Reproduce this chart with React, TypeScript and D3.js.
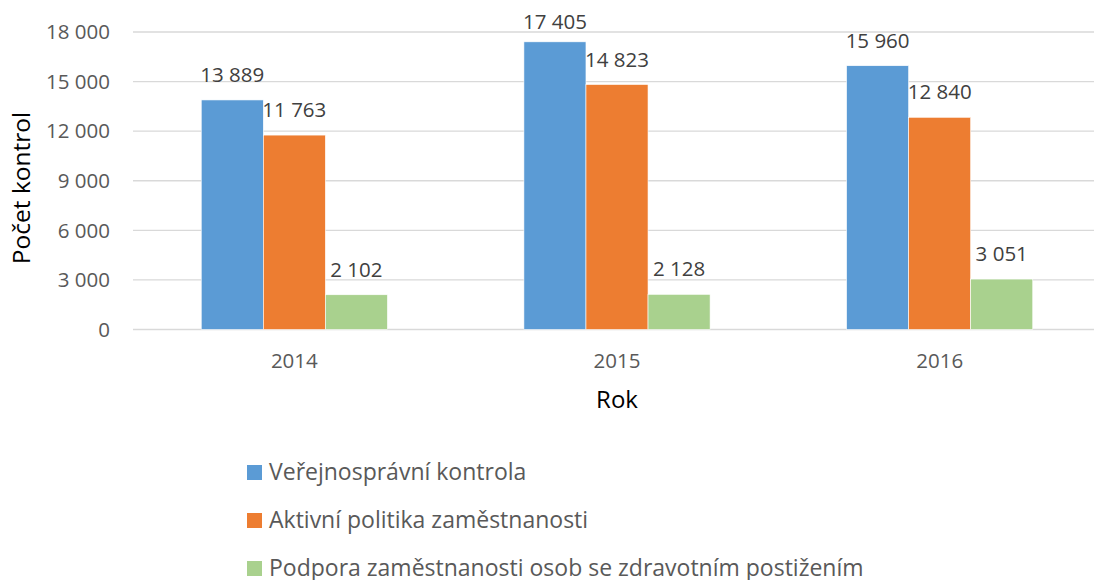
import { useEffect } from 'react';
import { scaleBand, scaleLinear, formatLocale, range } from 'd3';

const width = 1094;
const height = 580;

const years = ['2014', '2015', '2016'];
const seriesNames = [
  'Veřejnosprávní kontrola',
  'Aktivní politika zaměstnanosti',
  'Podpora zaměstnanosti osob se zdravotním postižením',
];
const seriesColors = ['#5B9BD5', '#ED7D31', '#A9D18E'];
// values per series, in the order of years
const verejnospravni = [13889, 17405, 15960];
const aktivniPolitika = [11763, 14823, 12840];
const podpora = [2102, 2128, 3051];
const seriesValues = [verejnospravni, aktivniPolitika, podpora];
const yTicks = range(0, 18001, 3000);

const font = '"Open Sans", sans-serif';
const czFormat = formatLocale({
  decimal: ',',
  thousands: ' ',
  grouping: [3],
  currency: ['', ''],
}).format(',d');

export default function App() {
  useEffect(() => {
    document.body.style.margin = '0';
  }, []);

  const x = scaleBand().domain(years).range([133, 1101]).paddingInner(0.423).paddingOuter(0.2115);
  const x1 = scaleBand().domain(seriesNames).range([0, x.bandwidth()]);
  const y = scaleLinear().domain([0, 18000]).range([329.5, 32]);

  return (
    <svg width={width} height={height} style={{ display: 'block', background: '#fff' }}>
      {/* gridlines */}
      {yTicks.map((t) => (
        <line key={t} x1={133} x2={width} y1={y(t)} y2={y(t)} stroke="#d9d9d9" strokeWidth={1.3} />
      ))}
      {/* y tick labels */}
      {yTicks.map((t) => (
        <text
          key={'yl' + t}
          x={110}
          y={y(t)}
          dy="0.35em"
          textAnchor="end"
          fontFamily={font}
          fontSize={20.5}
          fill="#595959"
        >
          {czFormat(t)}
        </text>
      ))}
      {/* bars */}
      {seriesNames.map((s, si) =>
        years.map((yr, i) => {
          const v = seriesValues[si][i];
          const bx = (x(yr) || 0) + (x1(s) || 0);
          return (
            <rect
              key={s + yr}
              x={bx}
              y={y(v)}
              width={x1.bandwidth()}
              height={y(0) - y(v)}
              fill={seriesColors[si]}
              stroke="#fff"
              strokeWidth={0.6}
            />
          );
        })
      )}
      {/* data labels, pushed down when they would leave the plot top */}
      {seriesNames.map((s, si) =>
        years.map((yr, i) => {
          const v = seriesValues[si][i];
          const cx = (x(yr) || 0) + (x1(s) || 0) + x1.bandwidth() / 2;
          return (
            <text
              key={'dl' + s + yr}
              x={cx}
              y={Math.max(y(v) - 18, 29)}
              textAnchor="middle"
              fontFamily={font}
              fontSize={20.5}
              fill="#404040"
            >
              {czFormat(v)}
            </text>
          );
        })
      )}
      {/* x tick labels */}
      {years.map((yr) => (
        <text
          key={'xl' + yr}
          x={(x(yr) || 0) + x.bandwidth() / 2}
          y={368}
          textAnchor="middle"
          fontFamily={font}
          fontSize={20.5}
          fill="#595959"
        >
          {yr}
        </text>
      ))}
      {/* axis titles */}
      <text x={617} y={408} textAnchor="middle" fontFamily={font} fontSize={24} fill="#000">
        Rok
      </text>
      <text
        transform={`translate(30, 188) rotate(-90)`}
        textAnchor="middle"
        fontFamily={font}
        fontSize={24.5}
        fill="#000"
      >
        Počet kontrol
      </text>
      {/* legend */}
      {seriesNames.map((s, si) => (
        <g key={'lg' + s} transform={`translate(247, ${480 + si * 48})`}>
          <rect x={0} y={-15} width={15} height={15} fill={seriesColors[si]} />
          <text x={22} y={-0.5} fontFamily={font} fontSize={23} fill="#595959">
            {s}
          </text>
        </g>
      ))}
    </svg>
  );
}
